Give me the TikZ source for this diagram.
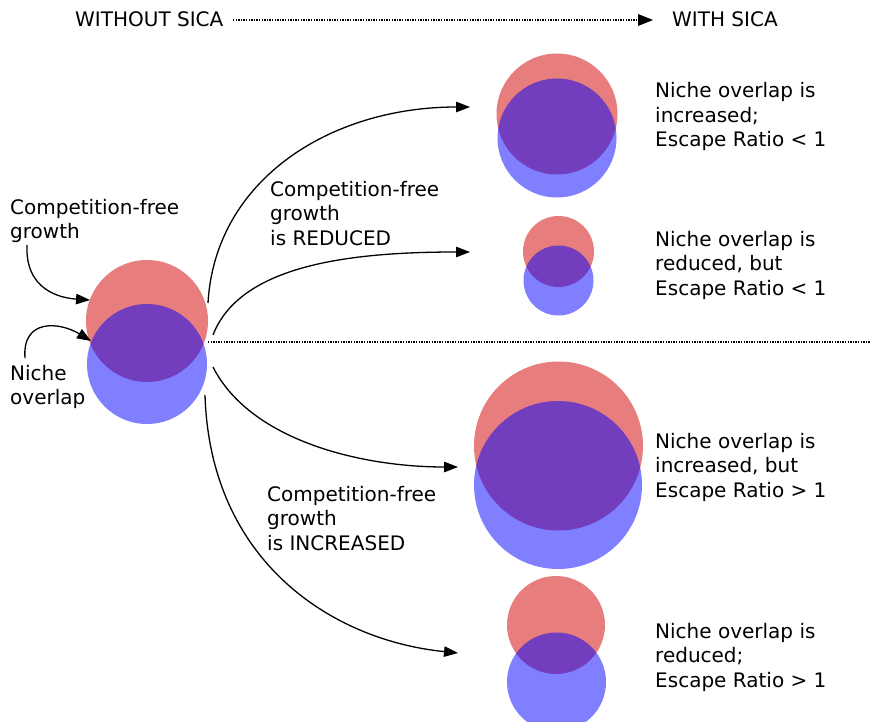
\documentclass[tikz,border=0pt]{standalone}
\usepackage{fontspec}
\setmainfont{DejaVu Sans}
\usetikzlibrary{arrows.meta}
\definecolor{cred}{RGB}{232,125,125}
\tikzset{
  redc/.style={circle, fill=cred, inner sep=0pt, minimum size=#1},
  bluec/.style={circle, fill=blue, fill opacity=0.5, inner sep=0pt, minimum size=#1},
  lbl/.style={anchor=base west, align=left, inner sep=0pt, font=\fontsize{20}{24.5}\selectfont},
  conn/.style={line width=1.3pt, -{Triangle[length=14pt,width=10.5pt]}},
  dots/.style={line width=1.6pt, dash pattern=on 1.3pt off 1.3pt}
}
\begin{document}
\begin{tikzpicture}[x=1pt,y=-1pt]
\useasboundingbox (0,0) rectangle (870,722);
% circles
\node[redc=122pt] (lr) at (147,321) {};
\node[bluec=120pt] (lb) at (147,364) {};
\node[redc=121pt] (r1) at (557,114) {};
\node[bluec=119pt] (b1) at (557,138) {};
\node[redc=71pt] (r2) at (558.5,251.5) {};
\node[bluec=70pt] (b2) at (558.5,280.5) {};
\node[redc=169pt] (r3) at (558.5,446) {};
\node[bluec=168pt] (b3) at (558,485) {};
\node[redc=98pt] (r4) at (556,625) {};
\node[bluec=99pt] (b4) at (556.5,682) {};
% texts (anchor = baseline of last line)
\node[lbl] (t0) at (75,27) {WITHOUT SICA};
\node[lbl] (t1) at (672,27) {WITH SICA};
\node[lbl] (cf) at (10,238.5) {Competition-free\\growth};
\node[lbl] (no) at (10,404.5) {Niche\\overlap};
\node[lbl] (red) at (270,245) {Competition-free\\growth\\is REDUCED};
\node[lbl] (inc) at (267,550) {Competition-free\\growth\\is INCREASED};
\node[lbl] (d1) at (655,147) {Niche overlap is\\increased;\\Escape Ratio < 1};
\node[lbl] (d2) at (655,295) {Niche overlap is\\reduced, but\\Escape Ratio < 1};
\node[lbl] (d3) at (655,497) {Niche overlap is\\increased, but\\Escape Ratio > 1};
\node[lbl] (d4) at (655,687) {Niche overlap is\\reduced;\\Escape Ratio > 1};
% coordinates
\coordinate (s1) at (208,303);
\coordinate (e1) at (470,107);
\coordinate (s2) at (213,335);
\coordinate (e2) at (470,252);
\coordinate (s3) at (213,367);
\coordinate (e3) at (458,467);
\coordinate (s4) at (205,395);
\coordinate (e4) at (458,653);
\coordinate (sa) at (27,245);
\coordinate (ea) at (90,300);
\coordinate (sb) at (25,358);
\coordinate (eb) at (91,341);
\coordinate (tl) at (233,20);
\coordinate (tr) at (653,20);
\coordinate (ml) at (208,342);
\coordinate (mr) at (870,342);
% connectors
\draw[conn] (s1) .. controls (215,180) and (330,107) .. (e1);
\draw[conn] (s2) .. controls (240,265) and (350,252) .. (e2);
\draw[conn] (s3) .. controls (250,440) and (360,467) .. (e3);
\draw[conn] (s4) .. controls (210,560) and (330,640) .. (e4);
\draw[conn] (sa) .. controls (25,290) and (60,298) .. (ea);
\draw[conn] (sb) .. controls (22,318) and (60,322) .. (eb);
\draw[dots] (tl) -- ([xshift=-12pt]tr);
\fill ([xshift=-15pt,yshift=-6pt]tr) -- (tr) -- ([xshift=-15pt,yshift=6pt]tr) -- cycle;
\draw[dots] (ml) -- (mr);
\end{tikzpicture}
\end{document}
